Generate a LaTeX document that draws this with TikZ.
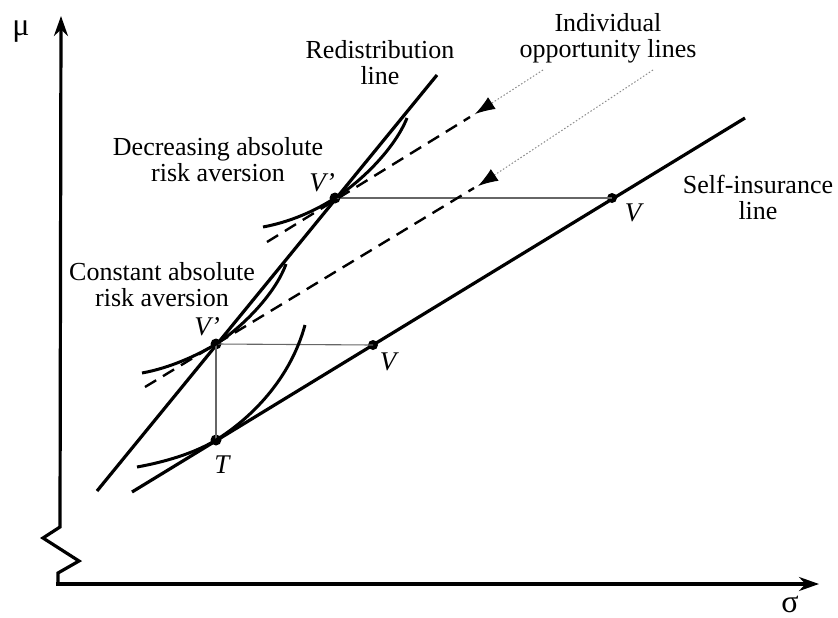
\documentclass[tikz,border=0pt]{standalone}
\usepackage{fontspec}
\setmainfont{Liberation Serif}
\usetikzlibrary{arrows.meta,calc}
\begin{document}
\begin{tikzpicture}[x=1pt,y=-1pt,
  axis/.style={line width=3.2pt},
  main/.style={line width=3.2pt},
  curve/.style={line width=3pt},
  thin/.style={line width=1.1pt, black!60},
  opp/.style={line width=2.4pt, dash pattern=on 13pt off 8pt},
  pointer/.style={line width=1pt, black!45, dash pattern=on 1.5pt off 2pt},
  tip/.style={line width=1pt, -{Latex[length=20pt,width=14pt]}},
  lab/.style={font=\fontsize{26}{26}\selectfont, align=center, inner sep=0pt},
  greek/.style={font=\fontsize{32}{32}\selectfont, inner sep=0pt},
  pt/.style={lab, font=\fontsize{27}{27}\selectfont\itshape},
  dot/.style={circle, fill=black, inner sep=0pt, minimum size=11pt}]
\useasboundingbox (0,0) rectangle (838,618);
% axes
\coordinate (ytop) at (61,16);
\coordinate (xend) at (819,584);
\draw[axis, line join=miter, -{Stealth[length=20pt,width=14pt]}]
  (58,584) -- (58,573) -- (79,561) -- (43,538) -- (60,527) -- (ytop);
\draw[axis, -{Stealth[length=20pt,width=14pt]}] (56.4,584) -- (xend);
\node[greek] (mu) at (21,32) {μ};
\node[greek] (sigma) at (790,604) {σ};
% points
\node[dot] (Vu) at (335,198) {};
\node[dot] (Vl) at (216,344) {};
\node[dot] (T)  at (216,440) {};
\node[dot, minimum size=10pt] (Wu) at (612,198) {};
\node[dot, minimum size=10pt] (Wl) at (373,345) {};
% redistribution & self-insurance lines
\coordinate (r0) at (97,491);
\coordinate (r1) at (437,75);
\coordinate (s0) at (132,492);
\coordinate (s1) at (745,118);
\draw[main] (r0) -- (r1);
\draw[main] (s0) -- (s1);
% thin connecting lines
\draw[thin] (Vu.center) -- (Wu.center);
\draw[thin] (Vl.center) -- (Wl.center);
\draw[thin] (Vl.center) -- (T.center);
% individual opportunity lines
\coordinate (d0) at (267,242);
\coordinate (d1) at (470,117);
\coordinate (e0) at (145,387);
\coordinate (e1) at (474,188);
\draw[opp] (d0) -- (d1);
\draw[opp] (e0) -- (e1);
% indifference curves
\draw[curve] (263,227) .. controls (290,222) and (315,211) .. (Vu.center)
  .. controls (362,181) and (395,148) .. (407,118);
\draw[curve] (142,373) .. controls (170,368) and (198,355) .. (Vl.center)
  .. controls (240,329) and (275,295) .. (286,264);
\draw[curve] (137,467) .. controls (165,462) and (195,453) .. (T.center)
  .. controls (250,419) and (290,380) .. (305,325);
% pointers
\coordinate (p1) at (543,70);
\coordinate (p2) at (653,70);
\coordinate (t1) at (475,114);
\coordinate (t2) at (478,186);
\draw[pointer] (p1) -- (t1);
\draw[pointer] (p2) -- (t2);
\draw[tip] ($(t1)!20pt!(p1)$) -- (t1);
\draw[tip] ($(t2)!20pt!(p2)$) -- (t2);
% labels
\node[lab] (redist) at (380,63) {Redistribution\\line};
\node[lab] (indiv) at (608,38) {Individual\\opportunity lines};
\node[lab] (dara) at (218,160) {Decreasing absolute\\risk aversion};
\node[lab] (cara) at (162,285) {Constant absolute\\risk aversion};
\node[lab] (self) at (758,197) {Self-insurance\\line};
\node[pt] (lVu) at (322,183) {V'};
\node[pt] (lVl) at (207,327) {V'};
\node[pt] (lWu) at (633,213) {V};
\node[pt] (lWl) at (388,362) {V};
\node[pt] (lT)  at (222,465) {T};
\end{tikzpicture}
\end{document}
